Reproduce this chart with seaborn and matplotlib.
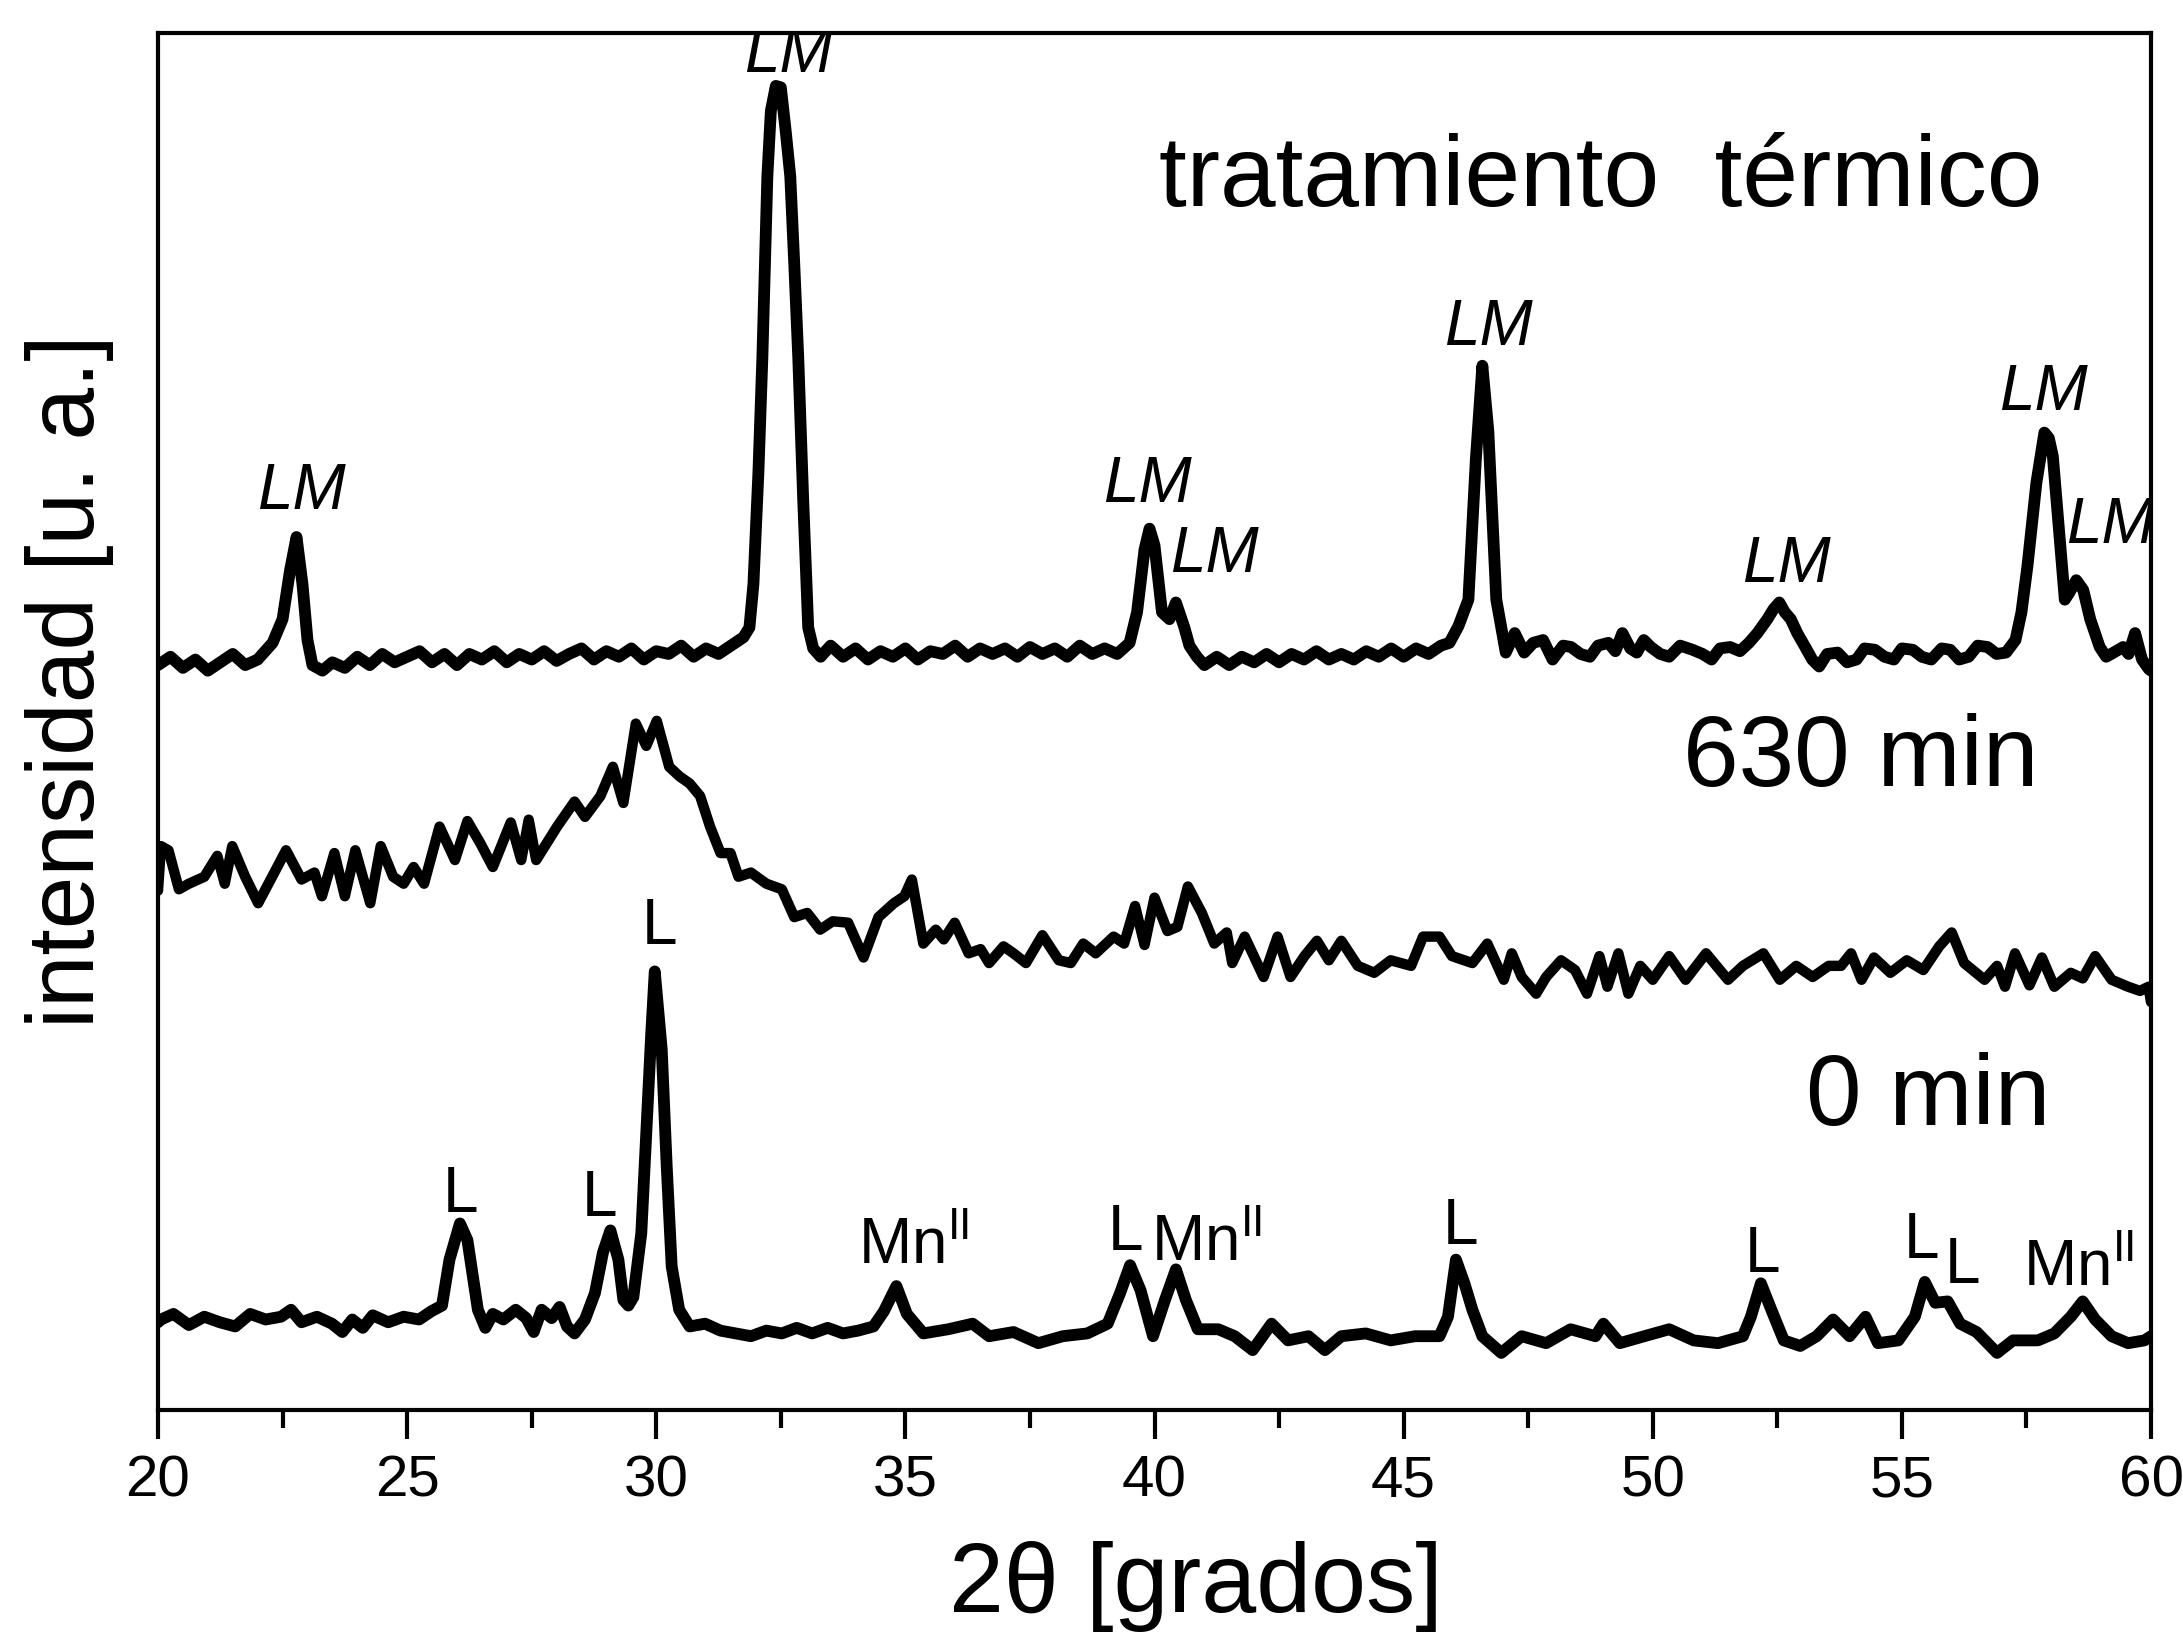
import matplotlib
matplotlib.use("Agg")
import matplotlib.pyplot as plt
import seaborn as sns
import pandas as pd
from matplotlib import font_manager
from matplotlib.ticker import MultipleLocator

# ---------------- data (2theta [deg], stacked intensity [a.u.]) ----------------
top_trace = [  # tratamiento termico
    (20.0,532),(20.25,538),(20.5,530),(20.75,536),(21.0,528),(21.25,534),(21.5,540),(21.75,532),
    (22.0,536),(22.15,542),(22.3,548),(22.5,565),(22.65,600),(22.78,624),(22.9,590),(23.0,550),
    (23.1,532),(23.3,528),(23.5,534),(23.75,530),(24.0,538),(24.25,532),(24.5,540),(24.75,534),
    (25.0,538),(25.25,542),(25.5,534),(25.75,540),(26.0,532),(26.25,540),(26.5,536),(26.75,542),
    (27.0,534),(27.25,540),(27.5,536),(27.75,542),(28.0,535),(28.25,540),(28.5,544),(28.75,536),
    (29.0,542),(29.25,538),(29.5,544),(29.75,536),(30.0,542),(30.25,540),(30.5,546),(30.75,538),
    (31.0,544),(31.25,540),(31.5,546),(31.75,552),(31.87,559),(31.95,590),(32.05,670),(32.13,753),
    (32.23,883),(32.3,930),(32.4,948),(32.5,947),(32.6,915),(32.69,883),(32.77,820),(32.85,753),
    (32.95,650),(33.05,559),(33.15,544),(33.3,538),(33.5,546),(33.75,538),(34.0,544),(34.25,536),
    (34.5,542),(34.75,538),(35.0,544),(35.25,536),(35.5,542),(35.75,540),(36.0,546),(36.25,538),
    (36.5,544),(36.75,540),(37.0,544),(37.25,538),(37.5,545),(37.75,540),(38.0,544),(38.25,538),
    (38.5,546),(38.75,540),(39.0,544),(39.25,540),(39.5,548),(39.65,570),(39.8,615),(39.9,630),
    (40.0,618),(40.15,570),(40.3,565),(40.43,577),(40.6,559),(40.7,546),(40.85,538),(41.0,532),
    (41.25,538),(41.5,532),(41.75,538),(42.0,534),(42.25,540),(42.5,534),(42.75,540),(43.0,536),
    (43.25,542),(43.5,536),(43.75,540),(44.0,536),(44.25,542),(44.5,538),(44.75,544),(45.0,538),
    (45.25,544),(45.5,540),(45.75,546),(45.92,548),(46.1,560),(46.3,579),(46.45,680),(46.58,747),
    (46.7,700),(46.86,579),(47.05,541),(47.23,555),(47.42,541),(47.6,548),(47.8,550),(47.99,536),
    (48.2,546),(48.36,545),(48.55,540),(48.74,538),(48.9,546),(49.11,548),(49.25,542),(49.39,555),
    (49.55,544),(49.68,541),(49.82,550),(49.96,545),(50.15,540),(50.33,538),(50.55,546),(50.8,543),
    (51.0,540),(51.18,536),(51.35,544),(51.55,545),(51.75,542),(51.93,548),(52.1,555),(52.3,565),
    (52.42,572),(52.54,577),(52.65,570),(52.77,565),(52.9,555),(53.06,545),(53.2,536),(53.34,531),
    (53.5,540),(53.71,541),(53.9,534),(54.09,536),(54.25,544),(54.46,543),(54.65,538),(54.84,536),
    (55.0,544),(55.22,543),(55.4,538),(55.59,536),(55.8,544),(55.97,543),(56.15,536),(56.34,538),
    (56.52,546),(56.72,545),(56.9,540),(57.09,541),(57.28,550),(57.4,570),(57.52,603),(57.7,663),
    (57.86,699),(57.95,695),(58.03,682),(58.13,639),(58.27,579),(58.36,584),(58.5,593),(58.64,586),
    (58.78,565),(58.97,545),(59.1,538),(59.25,541),(59.44,545),(59.55,540),(59.68,555),(59.82,536),
    (59.96,529),(60.0,528),
]

mid_trace = [  # 630 min
    (20.0,370),(20.06,402),(20.21,399),(20.42,371),(20.62,375),(20.93,380),(21.19,395),(21.34,375),
    (21.49,402),(21.75,380),(22.01,361),(22.26,378),(22.57,399),(22.88,378),(23.14,383),(23.29,366),
    (23.54,397),(23.75,366),(23.96,399),(24.26,361),(24.47,402),(24.72,380),(24.93,375),(25.13,387),
    (25.34,375),(25.65,416),(25.96,392),(26.21,420),(26.47,404),(26.72,387),(27.08,419),(27.29,392),
    (27.44,421),(27.59,392),(28.01,416),(28.36,434),(28.57,423),(28.88,438),(29.13,459),(29.34,433),
    (29.59,490),(29.80,474),(30.01,492),(30.26,459),(30.47,452),(30.67,447),(30.88,438),(31.08,416),
    (31.29,397),(31.49,397),(31.65,380),(31.90,383),(32.21,375),(32.52,371),(32.77,351),(33.03,354),
    (33.29,342),(33.54,348),(33.85,347),(34.16,322),(34.46,351),(34.77,361),(34.98,366),(35.13,378),
    (35.36,332),(35.61,342),(35.77,335),(35.99,347),(36.27,325),(36.51,328),(36.68,318),(36.97,330),
    (37.17,325),(37.42,318),(37.75,338),(38.08,320),(38.32,318),(38.57,332),(38.82,325),(39.18,337),
    (39.39,332),(39.61,359),(39.80,331),(40.00,365),(40.26,341),(40.46,344),(40.67,373),(40.95,354),
    (41.20,332),(41.45,340),(41.56,318),(41.81,337),(42.19,308),(42.47,337),(42.73,308),(43.01,323),
    (43.26,334),(43.50,320),(43.75,334),(44.08,316),(44.41,311),(44.74,320),(45.15,316),(45.39,337),
    (45.72,337),(45.97,323),(46.38,318),(46.68,332),(47.01,306),(47.17,325),(47.37,308),(47.66,296),
    (47.86,308),(48.16,320),(48.44,313),(48.68,296),(48.93,323),(49.09,301),(49.31,325),(49.51,296),
    (49.75,316),(50.00,306),(50.33,323),(50.66,306),(51.07,325),(51.51,306),(51.81,316),(52.22,325),
    (52.55,306),(52.88,316),(53.21,308),(53.53,316),(53.78,316),(53.98,325),(54.19,306),(54.44,322),
    (54.77,311),(55.10,320),(55.43,313),(55.75,330),(56.00,340),(56.25,318),(56.66,306),(56.91,316),
    (57.07,301),(57.27,325),(57.56,302),(57.81,322),(58.06,301),(58.39,311),(58.63,307),(58.88,323),
    (59.21,306),(59.54,301),(59.78,298),(59.95,301),(60.0,290),
]

bot_trace = [  # 0 min
    (20.0,60),(20.06,62),(20.31,66),(20.62,58),(20.93,64),(21.24,60),(21.55,57),(21.85,66),
    (22.16,62),(22.47,64),(22.67,69),(22.88,60),(23.19,64),(23.49,59),(23.70,53),(23.90,62),
    (24.11,56),(24.31,65),(24.62,60),(24.93,64),(25.24,62),(25.49,68),(25.70,72),(25.85,105),
    (26.06,131),(26.21,119),(26.31,95),(26.42,69),(26.57,56),(26.72,66),(26.93,62),(27.18,69),
    (27.39,63),(27.54,53),(27.70,69),(27.90,63),(28.06,71),(28.21,57),(28.36,52),(28.57,62),
    (28.77,81),(28.93,110),(29.08,126),(29.24,105),(29.34,76),(29.44,72),(29.54,78),(29.70,124),
    (29.80,196),(29.90,268),(29.97,312),(30.11,256),(30.21,172),(30.31,100),(30.46,69),(30.67,57),
    (30.98,59),(31.29,54),(31.59,52),(31.90,50),(32.21,54),(32.52,52),(32.82,56),(33.13,52),
    (33.44,56),(33.75,52),(34.05,54),(34.36,57),(34.57,68),(34.82,86),(35.03,66),(35.36,52),
    (35.86,55),(36.35,59),(36.68,50),(37.17,53),(37.67,45),(38.16,50),(38.65,52),(39.06,59),
    (39.31,81),(39.51,101),(39.72,83),(39.97,50),(40.21,76),(40.43,98),(40.63,76),(40.87,55),
    (41.28,55),(41.61,50),(41.97,40),(42.35,59),(42.68,47),(43.09,50),(43.42,40),(43.75,50),
    (44.24,52),(44.74,47),(45.23,50),(45.72,50),(45.89,64),(46.05,105),(46.22,88),(46.38,69),
    (46.58,50),(46.96,38),(47.37,50),(47.86,45),(48.35,55),(48.85,50),(49.01,59),(49.34,45),
    (49.83,50),(50.33,55),(50.82,47),(51.31,45),(51.81,50),(51.97,64),(52.17,88),(52.38,69),
    (52.63,47),(52.96,43),(53.29,50),(53.62,62),(53.95,50),(54.27,64),(54.52,45),(54.93,47),
    (55.26,64),(55.46,89),(55.67,74),(55.92,75),(56.17,59),(56.50,53),(56.91,38),(57.23,47),
    (57.73,47),(58.06,52),(58.39,64),(58.63,75),(58.88,62),(59.21,50),(59.54,45),(59.87,47),
    (60.0,50),
]

# peak labels: (2theta, intensity of label baseline)
lm_labels = [(22.88,644),(32.65,958),(39.86,649),(41.2,599),(46.71,762),
             (52.68,592),(57.84,715),(59.18,620)]
l_labels = [(26.07,139),(28.87,136),(30.07,332),(39.42,112),(46.15,116),
            (52.2,96),(55.4,106),(56.22,88)]
mn_labels = [(35.16,102),(41.05,104),(58.55,86)]
sample_names = ["tratamiento  térmico", "630 min", "0 min"]
sample_pos = [(48.95,862),(54.18,445),(55.52,202)]
x_ticks = [20, 25, 30, 35, 40, 45, 50, 55, 60]

# ---------------- style ----------------
sns.set_style("ticks")
plt.rcParams['font.family'] = ['Liberation Sans', 'DejaVu Sans']
plt.rcParams['mathtext.fontset'] = 'custom'
plt.rcParams['mathtext.rm'] = 'Liberation Sans'
plt.rcParams['mathtext.it'] = 'Liberation Sans:italic'
for k in ['text.color', 'axes.labelcolor', 'xtick.color', 'ytick.color', 'axes.edgecolor']:
    plt.rcParams[k] = 'black'

names = {f.name for f in font_manager.fontManager.ttflist}
if 'Liberation Sans Narrow' in names:
    tick_font, tick_size = 'Liberation Sans Narrow', 46
else:
    tick_font, tick_size = 'Liberation Sans', 42

W, H = 2183, 1639
fig = plt.figure(figsize=(W/100, H/100), dpi=100)
ax = fig.add_axes([158/W, 1-1410/H, (2151-158)/W, (1410-33)/H])

for trace, lw in [(top_trace, 8.5), (mid_trace, 7.5), (bot_trace, 8.5)]:
    df = pd.DataFrame(trace, columns=['two_theta', 'intensity'])
    sns.lineplot(data=df, x='two_theta', y='intensity', ax=ax, color='black',
                 lw=lw, estimator=None, sort=False, solid_joinstyle='round',
                 solid_capstyle='round')

ax.set_xlim(20, 60)
ax.set_ylim(-3, 986)
ax.set_yticks([])
ax.set_xticks(x_ticks)
ax.xaxis.set_minor_locator(MultipleLocator(2.5))
ax.tick_params(axis='x', which='major', length=21, width=3, direction='out',
               pad=11, labelsize=tick_size, colors='black')
ax.tick_params(axis='x', which='minor', length=13, width=3, direction='out')
for lab in ax.get_xticklabels():
    lab.set_fontfamily(tick_font)
for sp in ax.spines.values():
    sp.set_linewidth(3)
    sp.set_color('black')

ax.set_xlabel('2θ [grados]', fontsize=71, va='center', color='black')
ax.xaxis.set_label_coords(0.521, -0.1285)
ax.set_ylabel('intensidad [u. a.]', fontsize=68, va='center', color='black')
ax.yaxis.set_label_coords(-0.0442, 0.529)

for x, y in lm_labels:
    ax.text(x, y, 'LM', fontsize=46, style='italic', ha='center', va='baseline',
            clip_on=True, color='black')
for x, y in l_labels:
    ax.text(x, y, 'L', fontsize=46, ha='center', va='baseline', color='black')
for x, y in mn_labels:
    ax.text(x, y, r'Mn$^{\mathrm{II}}$', fontsize=46, ha='center', va='baseline',
            color='black')
for s, (x, y) in zip(sample_names, sample_pos):
    ax.text(x, y, s, fontsize=72, ha='center', va='baseline', color='black')

fig.savefig('out.png', dpi=100, facecolor='white')
